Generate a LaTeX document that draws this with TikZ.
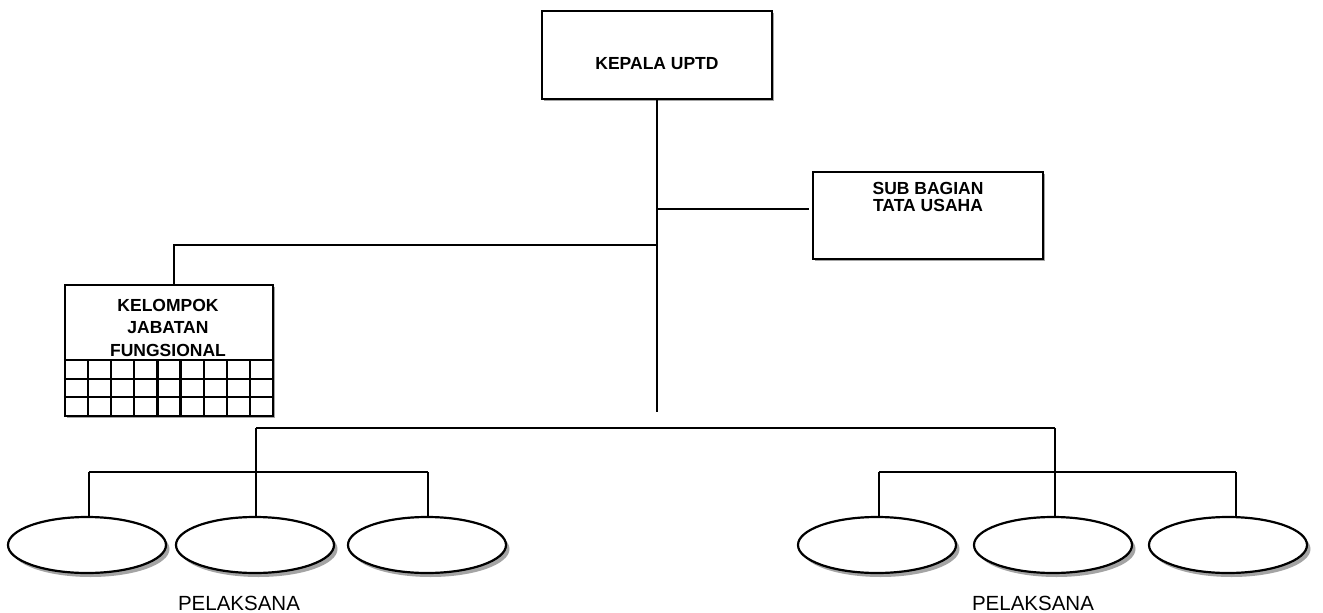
\documentclass[tikz,border=0pt]{standalone}
\usepackage{fontspec}
\setmainfont{Liberation Sans}
\usetikzlibrary{shadows,calc,shapes.geometric}
\begin{document}
\begin{tikzpicture}[x=1pt,y=-1pt,
  line width=2.2pt,
  orgbox/.style={draw=black,fill=white,line width=2.2pt,rectangle,inner sep=0pt,
    drop shadow={shadow xshift=1.5pt,shadow yshift=-1.5pt,fill=black!45,opacity=0.8}},
  btext/.style={font=\fontsize{17.5}{17}\selectfont\bfseries,align=center,inner sep=0pt},
  pel/.style={draw=black,fill=white,line width=2.2pt,ellipse,inner sep=0pt,
    minimum width=158pt,minimum height=56pt,
    drop shadow={shadow xshift=3.5pt,shadow yshift=-4pt,fill=black!55,opacity=0.65}},
  ptext/.style={font=\fontsize{20.5}{22}\selectfont,inner sep=0pt}]
\useasboundingbox (0,0) rectangle (1323,613);

% boxes
\node[orgbox,minimum width=230pt,minimum height=88pt] (kepala) at (657,55) {};
\node[btext] (kepalat) at (657,63.5) {KEPALA UPTD};

\node[orgbox,minimum width=230pt,minimum height=87pt] (subbag) at (928,215.5) {};
\node[btext] (subbagt) at (928,197) {SUB BAGIAN\\TATA USAHA};

\node[orgbox,minimum width=208pt,minimum height=131pt] (kelompok) at (169,350.5) {};
\node[btext,font=\fontsize{17.5}{22.5}\selectfont\bfseries] (kelompokt) at (168,327.5) {KELOMPOK\\JABATAN\\FUNGSIONAL};
% grid of the functional group box
\foreach \yy in {360,378.7,397.3}
  \draw (kelompok.west |- 0,\yy) -- (kelompok.east |- 0,\yy);
\foreach \i in {1,...,8}
  \draw ({65+\i*208/9},360) -- ({65+\i*208/9},416);

% ellipses
\node[pel] (e1) at (87,545) {};
\node[pel] (e2) at (255,545) {};
\node[pel] (e3) at (427,545) {};
\node[pel] (e4) at (877,545) {};
\node[pel] (e5) at (1053,545) {};
\node[pel] (e6) at (1228,545) {};

\node[ptext] (pel1) at (239,603) {PELAKSANA};
\node[ptext] (pel2) at (1033,603) {PELAKSANA};

% connectors
\coordinate (trunkend) at (657,412);
\draw (kepala.south) -- (trunkend);
\coordinate (jsub) at (657,209);
\draw (jsub) -- ($(jsub -| subbag.west)+(-3,0)$);
\coordinate (jkel) at (657,245);
\draw (jkel) -- (174,245) -- (174,0 |- kelompok.north);

\coordinate (busL) at (256,428);
\coordinate (busR) at (1055,428);
\draw (busL) -- (busR);
\draw (busL) -- (256,0 |- e2.north);
\draw (busR) -- (1055,0 |- e5.north);

\draw (89,472) -- (428,472);
\draw (89,472) -- (89,0 |- e1.north);
\draw (428,472) -- (428,0 |- e3.north);

\draw (879,472) -- (1236,472);
\draw (879,472) -- (879,0 |- e4.north);
\draw (1236,472) -- (1236,0 |- e6.north);
\end{tikzpicture}
\end{document}
